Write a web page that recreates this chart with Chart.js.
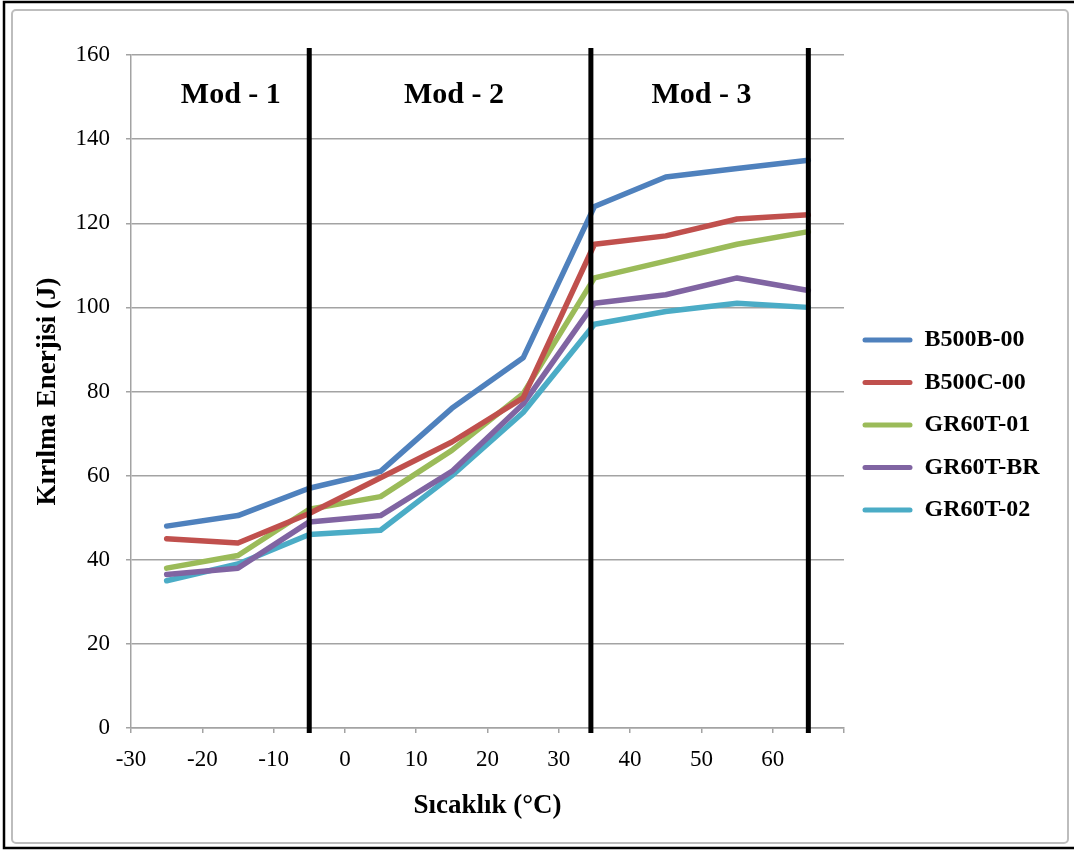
<!DOCTYPE html>
<html>
<head>
<meta charset="utf-8">
<script src="https://cdn.jsdelivr.net/npm/chart.js@4"></script>
<style>
html,body{margin:0;padding:0;background:#fff;}
#wrap{width:1074px;height:850px;position:relative;}
</style>
</head>
<body>
<div id="wrap"><canvas id="c" width="1074" height="850"></canvas></div>
<script>
// ---- data ----
const temperatures = [-25, -15, -5, 5, 15, 25, 35, 45, 55, 65];
const seriesNames = ['B500B-00', 'B500C-00', 'GR60T-01', 'GR60T-BR', 'GR60T-02'];
const b500b00 = [48, 50.5, 57, 61, 76, 88, 124, 131, 133, 135];
const b500c00 = [45, 44, 51, 59.5, 68, 78.5, 115, 117, 121, 122];
const gr60t01 = [38, 41, 52, 55, 66, 79.5, 107, 111, 115, 118];
const gr60tbr = [36.5, 38, 49, 50.5, 61, 77, 101, 103, 107, 104];
const gr60t02 = [35, 39, 46, 47, 60, 75, 96, 99, 101, 100];
const seriesColors = ['#4F81BD', '#C0504D', '#9BBB59', '#8064A2', '#4BACC6'];
const modBoundaries = [-5, 34.5, 65];
const modLabels = ['Mod - 1', 'Mod - 2', 'Mod - 3'];
const modLabelX = [-16, 15.3, 50];
const modLabelY = 150.5;
const xTitle = 'Sıcaklık (°C)';
const yTitle = 'Kırılma Enerjisi (J)';

const allSeries = [b500b00, b500c00, gr60t01, gr60tbr, gr60t02];
const datasets = allSeries.map((vals, i) => ({
  label: seriesNames[i],
  data: temperatures.map((t, j) => ({x: t, y: vals[j]})),
  borderColor: seriesColors[i],
  backgroundColor: seriesColors[i],
  borderWidth: 5.5,
  pointRadius: 0,
  tension: 0,
  borderJoinStyle: 'round',
  borderCapStyle: 'round'
}));

const SERIF = '"Liberation Serif", "Times New Roman", serif';
const GRID = '#a3a3a3';

const decor = {
  id: 'decor',
  beforeDraw(chart) {
    const ctx = chart.ctx;
    ctx.save();
    ctx.fillStyle = '#fff';
    ctx.fillRect(0, 0, chart.width, chart.height);
    ctx.strokeStyle = '#bdbdbd';
    ctx.lineWidth = 2;
    ctx.beginPath();
    if (ctx.roundRect) ctx.roundRect(12, 10, 1056, 833, 4); else ctx.rect(12, 10, 1056, 833);
    ctx.stroke();
    ctx.strokeStyle = '#000';
    ctx.lineWidth = 2.5;
    ctx.beginPath();
    ctx.moveTo(1074, 2); ctx.lineTo(4, 2); ctx.lineTo(4, 848); ctx.lineTo(1074, 848);
    ctx.stroke();
    ctx.restore();
  },
  beforeLayout(chart) {
    const lg = chart.legend;
    if (lg && !lg._fixedFit) {
      const orig = lg.fit;
      lg.fit = function() { orig.call(this); this.width = 230; };
      lg._fixedFit = true;
    }
  },
  afterLayout(chart) {
    const lg = chart.legend;
    if (lg) {
      const h = lg.bottom - lg.top;
      lg.top = 309.5;
      lg.bottom = lg.top + h;
    }
  },
  afterDatasetsDraw(chart) {
    const ctx = chart.ctx;
    const xs = chart.scales.x, ys = chart.scales.y;
    const a = chart.chartArea;
    ctx.save();
    ctx.strokeStyle = '#000';
    ctx.lineWidth = 5;
    modBoundaries.forEach(v => {
      const px = xs.getPixelForValue(v);
      ctx.beginPath();
      ctx.moveTo(px, a.top - 7);
      ctx.lineTo(px, a.bottom + 5);
      ctx.stroke();
    });
    ctx.fillStyle = '#000';
    ctx.font = 'bold 30px ' + SERIF;
    ctx.textAlign = 'center';
    ctx.textBaseline = 'middle';
    modLabels.forEach((t, i) => {
      ctx.fillText(t, xs.getPixelForValue(modLabelX[i]), ys.getPixelForValue(modLabelY));
    });
    ctx.restore();
  }
};

new Chart(document.getElementById('c'), {
  type: 'line',
  data: {datasets},
  plugins: [decor],
  options: {
    responsive: false,
    devicePixelRatio: 1,
    animation: false,
    layout: {padding: {top: 55, right: 0, bottom: 0, left: 0}},
    plugins: {
      legend: {
        position: 'right',
        align: 'start',
        fullSize: false,
        labels: {
          boxWidth: 50,
          boxHeight: 5,
          padding: 18.5,
          color: '#000',
          useBorderRadius: true,
          borderRadius: 2.5,
          font: {family: SERIF, size: 24, weight: 'bold'},
          generateLabels(chart) {
            return Chart.defaults.plugins.legend.labels.generateLabels(chart).map(it => Object.assign(it, {lineWidth: 0, borderRadius: 2.5}));
          }
        }
      },
      tooltip: {enabled: false}
    },
    scales: {
      x: {
        type: 'linear',
        min: -30,
        max: 70,
        afterFit(s) { s.height = 122; },
        ticks: {
          stepSize: 10,
          padding: 13,
          color: '#000',
          font: {family: SERIF, size: 23},
          maxRotation: 0,
          callback: v => (v === 70 ? '' : String(v))
        },
        grid: {drawOnChartArea: false, drawTicks: true, tickLength: 5, color: GRID, lineWidth: 1.5},
        border: {display: true, color: GRID, width: 1.5},
        title: {
          display: true,
          text: xTitle,
          color: '#000',
          font: {family: SERIF, size: 27, weight: 'bold'},
          padding: {top: 0, bottom: 28}
        }
      },
      y: {
        min: 0,
        max: 160,
        afterFit(s) { s.width = 131; },
        ticks: {
          stepSize: 20,
          padding: 16,
          color: '#000',
          font: {family: SERIF, size: 23}
        },
        grid: {drawTicks: true, tickLength: 5, color: GRID, lineWidth: 1.5},
        border: {display: true, color: GRID, width: 1.5},
        title: {
          display: true,
          text: yTitle,
          color: '#000',
          font: {family: SERIF, size: 27, weight: 'bold'},
          padding: {top: 32, bottom: 0}
        }
      }
    }
  }
});
</script>
</body>
</html>
